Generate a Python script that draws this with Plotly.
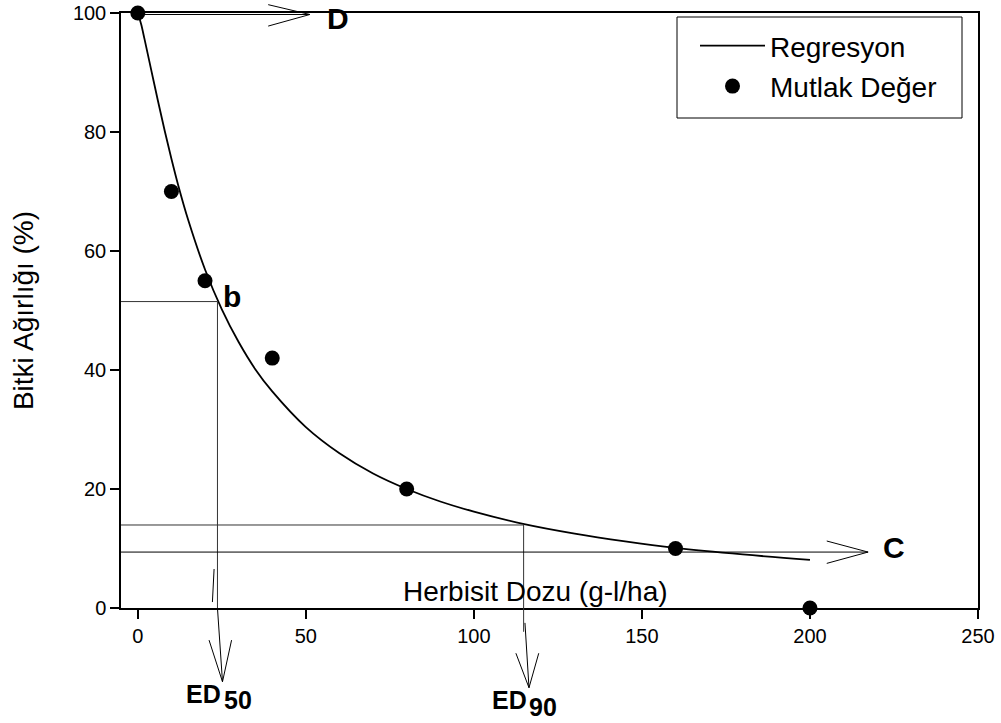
import plotly.graph_objects as go

# ---- data ----
dose = [0, 10, 20, 40, 80, 160, 200]            # Herbisit dozu (g-l/ha)
weight = [100, 70, 55, 42, 20, 10, 0]           # Mutlak değer (%)

fit_x = [0, 1, 2, 4, 6, 8, 10, 12, 15, 20, 25, 30, 35, 40, 50, 60, 70, 80,
         90, 100, 115, 130, 145, 160, 180, 200]
fit_y = [100, 98.1, 95.6, 90.4, 85.2, 80.2, 75.5, 71.1, 65.2, 56.9, 50.2,
         44.7, 40.1, 36.4, 30.4, 26.0, 22.6, 20.0, 17.9, 16.2, 14.1, 12.5,
         11.2, 10.1, 9.0, 8.1]

x_ticks = [0, 50, 100, 150, 200, 250]
y_ticks = [0, 20, 40, 60, 80, 100]

D_level = 99.75      # upper asymptote arrow
C_level = 9.4        # lower asymptote arrow
ed50_x, ed50_y = 23.7, 51.5
ed90_x, ed90_y = 114.8, 13.95

X_RANGE = [-5, 250]
Y_RANGE = [0, 100]

FONT = "Arial, Liberation Sans, Helvetica, sans-serif"


def px(x):
    return (x - X_RANGE[0]) / (X_RANGE[1] - X_RANGE[0])


def py(y):
    return (y - Y_RANGE[0]) / (Y_RANGE[1] - Y_RANGE[0])


fig = go.Figure()

fig.add_trace(go.Scatter(
    x=fit_x, y=fit_y, mode="lines", name="Regresyon",
    line=dict(color="black", width=1.8, shape="spline"),
    legendgroup="a",
))
fig.add_trace(go.Scatter(
    x=dose, y=weight, mode="markers", name="Mutlak Değer",
    marker=dict(color="black", size=15), cliponaxis=False,
    legendgroup="b",
))

shapes = []


def seg(x0, y0, x1, y1, color="black", width=1):
    shapes.append(dict(type="line", xref="paper", yref="paper",
                       x0=px(x0), y0=py(y0), x1=px(x1), y1=py(y1),
                       line=dict(color=color, width=width), layer="above"))


# ED50 guide lines and arrow
seg(X_RANGE[0], ed50_y, ed50_x, ed50_y, "#333", 1)
seg(ed50_x, ed50_y, ed50_x, 0, "#333", 1)
seg(ed50_x, 0, 25.2, -12.4)
seg(21.2, -5.4, 25.2, -12.4)
seg(27.9, -5.4, 25.2, -12.4)
seg(22.7, 6.55, 22.2, 1.0)

# ED90 guide lines and arrow
seg(X_RANGE[0], ed90_y, ed90_x, ed90_y, "#333", 1)
seg(ed90_x, ed90_y, ed90_x, -4.0, "#333", 1)
seg(115.2, -2.5, 116.4, -13.4)
seg(112.5, -7.6, 116.4, -13.4)
seg(119.3, -7.6, 116.4, -13.4)

# C arrow
seg(X_RANGE[0], C_level, 217.3, C_level)
seg(205, 11.26, 217.3, C_level)
seg(205, 7.5, 217.3, C_level)

# D arrow
seg(0, D_level, 51.2, D_level)
seg(38.8, 101.4, 51.2, D_level)
seg(38.8, 97.8, 51.2, D_level)

# legend box
shapes.append(dict(type="rect", xref="paper", yref="paper",
                   x0=(677 - 121) / 857, x1=(962 - 121) / 857,
                   y0=(608 - 118) / 595, y1=(608 - 17) / 595,
                   line=dict(color="black", width=1), fillcolor="rgba(0,0,0,0)"))

annotations = []


def label(text, x, y, size, bold=True, xanchor="center", yanchor="middle"):
    t = f"<b>{text}</b>" if bold else text
    annotations.append(dict(text=t, x=px(x), y=py(y),
                            xref="paper", yref="paper",
                            xanchor=xanchor, yanchor=yanchor, showarrow=False,
                            borderpad=0,
                            font=dict(size=size, color="black", family=FONT)))


label("D", 59.5, 99.0, 30)
label("C", 225, 10.1, 30)
label("b", 27.9, 52.3, 30)
label("ED", 19.6, -14.4, 25)
label("50", 29.8, -15.5, 25)
label("ED", 110.7, -15.4, 25)
label("90", 120.5, -16.6, 25)
label("Herbisit Dozu (g-l/ha)", 118.2, 0, 28, bold=False, yanchor="bottom")

fig.update_layout(
    width=1001, height=723,
    margin=dict(l=121, r=23, t=13, b=115, autoexpand=False),
    paper_bgcolor="white", plot_bgcolor="white",
    font=dict(family=FONT, color="black", size=20),
    shapes=shapes, annotations=annotations,
    showlegend=True,
    legend=dict(x=(695 - 121) / 857, y=(608 - 21) / 595, xanchor="left", yanchor="top",
                bgcolor="rgba(0,0,0,0)", borderwidth=0,
                font=dict(size=28, family=FONT, color="black"),
                itemwidth=65, tracegroupgap=1),
)

fig.update_xaxes(range=X_RANGE, tickvals=x_ticks, ticks="outside", ticklen=9,
                 tickwidth=1.5, tickcolor="black", showline=True, linecolor="black",
                 linewidth=1.5, mirror=True, showgrid=False, zeroline=False,
                 tickfont=dict(size=20), automargin=False, ticklabeloverflow="allow")
fig.update_yaxes(range=Y_RANGE, tickvals=y_ticks, ticks="outside", ticklen=9,
                 tickwidth=1.5, tickcolor="black", showline=True, linecolor="black",
                 linewidth=1.5, mirror=True, showgrid=False, zeroline=False,
                 tickfont=dict(size=20), automargin=False, ticklabeloverflow="allow",
                 title=dict(text="Bitki Ağırlığı (%)", font=dict(size=28), standoff=31))

fig.write_html("out.html", config={"displayModeBar": False},
               post_script="document.body.style.margin='0';document.body.style.overflow='hidden';")
